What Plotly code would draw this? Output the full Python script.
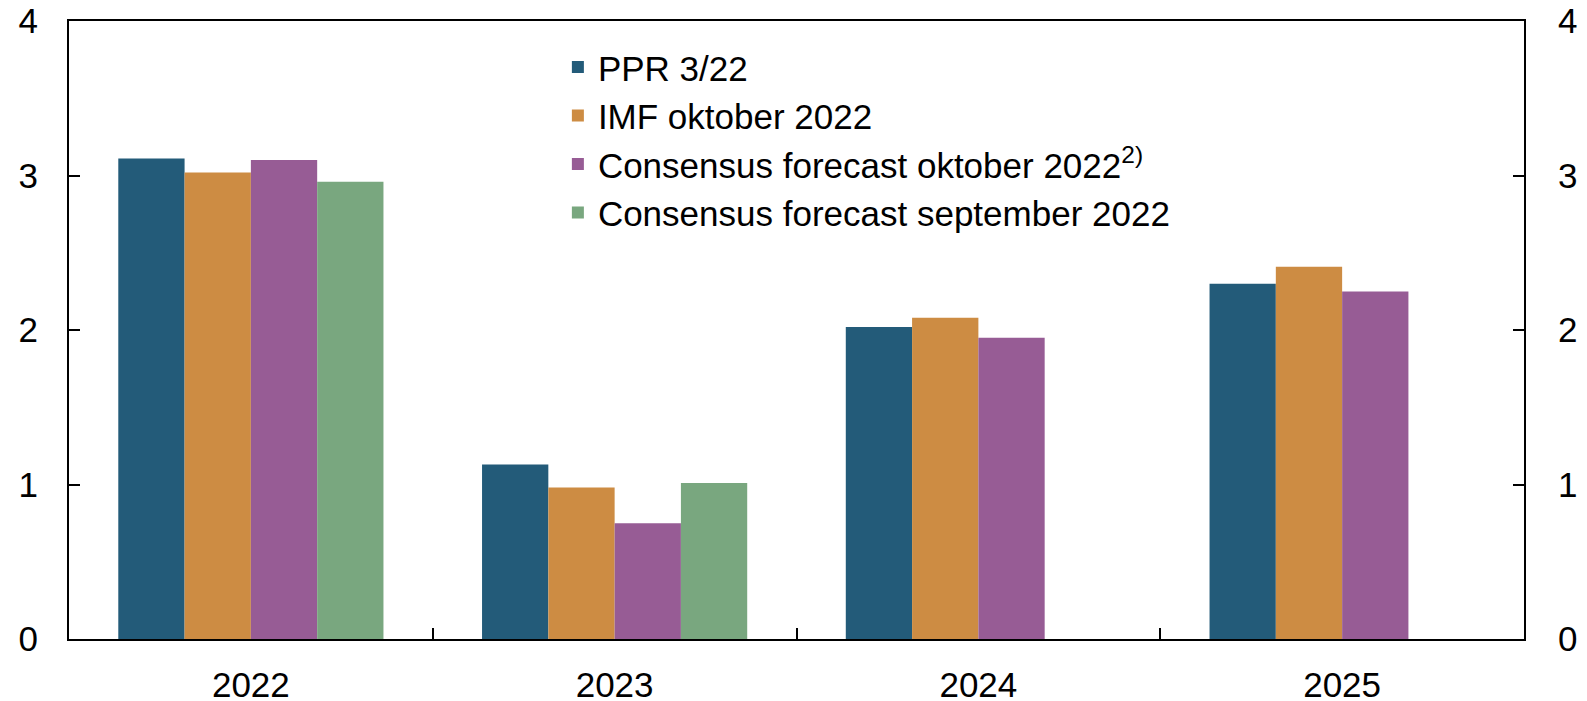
import plotly.graph_objects as go

years = ["2022", "2023", "2024", "2025"]
ppr = [3.11, 1.13, 2.02, 2.30]
imf = [3.02, 0.98, 2.08, 2.41]
cons_okt = [3.10, 0.75, 1.95, 2.25]
cons_sep = [2.96, 1.01, None, None]

names = ["PPR 3/22", "IMF oktober 2022",
         "Consensus forecast oktober 2022<sup>2)</sup>",
         "Consensus forecast september 2022"]
colors = ["#235B79", "#CD8C43", "#975C95", "#79A77F"]
series = [ppr, imf, cons_okt, cons_sep]

fig = go.Figure()
for n, c, v in zip(names, colors, series):
    fig.add_trace(go.Bar(x=years, y=v, name=n, marker=dict(color=c, line=dict(width=0))))

fig.add_trace(go.Scatter(x=years, y=[None]*4, yaxis="y2", showlegend=False, hoverinfo="skip"))

font = "Liberation Sans, Arial, sans-serif"
tickfont = dict(size=35, family=font, color="black")
common_y = dict(range=[0, 4], dtick=1, showline=True, linecolor="black", linewidth=2,
                ticks="inside", ticklen=11, tickwidth=1.5, tickcolor="black",
                showgrid=False, zeroline=False, automargin=False, tickfont=tickfont,
                ticklabeloverflow="allow")
fig.update_layout(
    width=1587, height=701,
    margin=dict(l=69, r=63, t=21, b=62, autoexpand=False),
    paper_bgcolor="white", plot_bgcolor="white",
    barmode="group", bargap=0.271, bargroupgap=0,
    font=dict(family=font, size=32, color="black"),
    showlegend=True,
    legend=dict(x=0.336, y=0.973, xanchor="left", yanchor="top",
                font=dict(size=35, family=font, color="black"), bgcolor="rgba(0,0,0,0)"),
    xaxis=dict(type="category", showline=True, linecolor="black", linewidth=2,
               mirror=True, ticks="inside", ticklen=11, tickwidth=1.5, tickcolor="black",
               tickson="boundaries", ticklabelstandoff=14, showgrid=False,
               automargin=False, tickfont=tickfont, ticklabeloverflow="allow"),
    yaxis=dict(**common_y, ticklabelstandoff=22),
    yaxis2=dict(**common_y, overlaying="y", side="right", ticklabelstandoff=25),
)

fig.write_html("out.html", config={"displayModeBar": False},
               post_script="document.body.style.margin='0px';document.body.style.overflow='hidden';")
